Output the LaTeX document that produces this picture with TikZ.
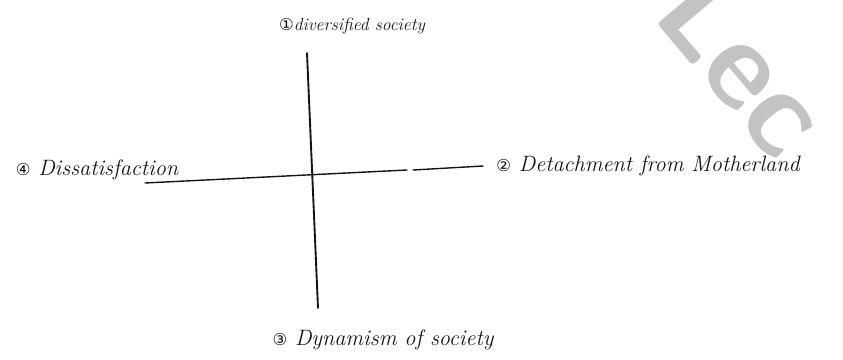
\documentclass[tikz,border=0pt]{standalone}
\usepackage{fontspec}
\newfontfamily\circfont{DejaVu Sans}
\definecolor{inkK}{RGB}{20,20,20}
\definecolor{markG}{RGB}{195,195,195}
\newcommand{\cnum}[1]{{\circfont\fontsize{14}{14}\selectfont #1}}

\begin{document}
\begin{tikzpicture}[x=0.03cm,y=-0.03cm,
  lbl/.style={inkK,font=\fontsize{19}{22}\selectfont\itshape,inner sep=0pt}]
\useasboundingbox (0,0) rectangle (843,359);
\clip (0,0) rectangle (843,359);
% faint watermark
\node[markG,font=\sffamily\bfseries\fontsize{105}{105}\selectfont,rotate=-50,anchor=west] (mark) at (680,-15) {Lec};
% axes
\coordinate (top) at (307,53);
\coordinate (bot) at (318,308);
\coordinate (lft) at (145,183);
\coordinate (gap1) at (407,170);
\coordinate (gap2) at (413,170);
\coordinate (rgt) at (483,166);
\draw[inkK,line width=1.6pt,line cap=round] (top)--(bot);
\draw[inkK,line width=1.2pt,line cap=round] (lft)--(gap1) (gap2)--(rgt);
% labels
\node[lbl,font=\fontsize{15}{18}\selectfont\itshape] (n1) at (352,26) {\cnum{①}diversified society};
\node[lbl] (n2) at (648,166) {\cnum{②} Detachment from Motherland};
\node[lbl] (n3) at (383,340) {\cnum{③} Dynamism of society};
\node[lbl] (n4) at (97,170) {\cnum{④} Dissatisfaction};
\end{tikzpicture}
\end{document}
